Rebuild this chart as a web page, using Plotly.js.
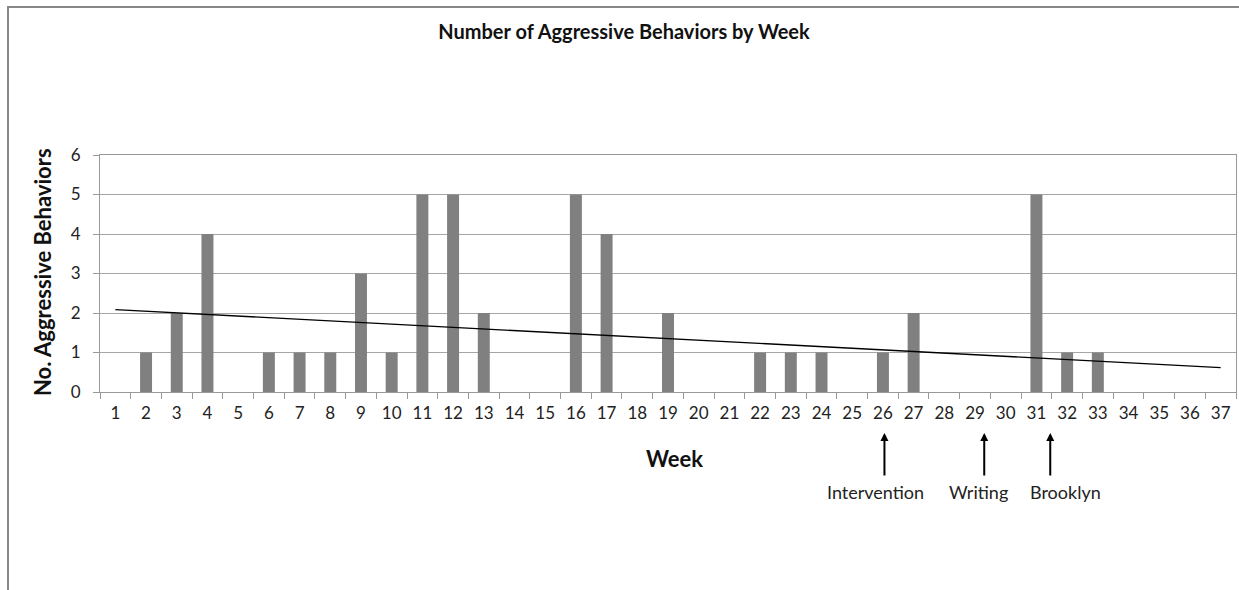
<!DOCTYPE html>
<html>
<head>
<meta charset="utf-8">
<script src="https://cdn.plot.ly/plotly-3.0.1.min.js"></script>
<style>html,body{margin:0;padding:0;background:#fff;}#chart{width:1239px;height:590px;}</style>
</head>
<body>
<div id="chart"></div>
<script>
const weeks = ["1","2","3","4","5","6","7","8","9","10","11","12","13","14","15","16","17","18","19","20","21","22","23","24","25","26","27","28","29","30","31","32","33","34","35","36","37"];
const behaviors = [0,1,2,4,0,1,1,1,3,1,5,5,2,0,0,5,4,0,2,0,0,1,1,1,0,1,2,0,0,0,5,1,1,0,0,0,0];
const yTicks = [0,1,2,3,4,5,6];
const events = ["Intervention","Writing","Brooklyn"];
const eventWeeks = [26.05, 29.3, 31.45];
const eventLabelWeeks = [25.75, 29.1, 31.95];

// linear trendline (least squares) computed from the data
const n = behaviors.length;
const xs = weeks.map(Number);
const mx = xs.reduce((a,b)=>a+b,0)/n;
const my = behaviors.reduce((a,b)=>a+b,0)/n;
let sxy=0,sxx=0;
for(let i=0;i<n;i++){sxy+=(xs[i]-mx)*(behaviors[i]-my);sxx+=(xs[i]-mx)*(xs[i]-mx);}
const slope=sxy/sxx, icpt=my-slope*mx;
const trend = xs.map(x=>icpt+slope*x);

const font = "Lato, 'Open Sans', sans-serif";
const L=100, R=3, T=155, B=198, W=1239, H=590;
const pw=W-L-R, ph=H-T-B;
const px=v=>(v-L)/pw, py=v=>(H-B-v)/ph;

const traces = [
  {type:'bar', x:weeks, y:behaviors, width:0.39, marker:{color:'#808080', line:{width:0}}, hoverinfo:'x+y'},
  {type:'scatter', mode:'lines', x:weeks, y:trend, line:{color:'#000', width:1.4}, hoverinfo:'skip'}
];

const annotations = [
  {xref:'paper', yref:'paper', x:px(674), y:py(458), text:'<b>Week</b>', showarrow:false, xanchor:'center', yanchor:'middle',
    font:{family:font, size:22, color:'#111'}},
  {xref:'paper', yref:'paper', x:px(42), y:py(272), text:'<b>No. Aggressive Behaviors</b>', showarrow:false, textangle:-90,
    xanchor:'center', yanchor:'middle', font:{family:font, size:22, color:'#111'}}
];
events.forEach((ev,i)=>{
  annotations.push({xref:'x', yref:'paper', x:eventWeeks[i]-1, y:py(433), ax:0, ay:44, text:'', showarrow:true,
    arrowhead:2, arrowsize:0.8, arrowwidth:2, arrowcolor:'#000'});
  annotations.push({xref:'x', yref:'paper', x:eventLabelWeeks[i]-1, y:py(492), text:ev, showarrow:false,
    xanchor:'center', yanchor:'middle', font:{family:font, size:18, color:'#222'}});
});

const layout = {
  width:W, height:H,
  margin:{l:L, r:R, t:T, b:B, pad:0},
  paper_bgcolor:'#fff', plot_bgcolor:'#fff',
  showlegend:false,
  title:{text:'<b>Number of Aggressive Behaviors by Week</b>', x:px(624), xref:'paper', xanchor:'center', y:1-32/H, yanchor:'middle',
    font:{family:font, size:20, color:'#111'}},
  xaxis:{type:'category', tickson:'boundaries', ticks:'outside', ticklen:6, tickcolor:'#999', tickwidth:1,
    showline:true, linecolor:'#999', linewidth:1, mirror:true, showgrid:false, zeroline:false,
    tickfont:{family:font, size:17, color:'#222'}, ticklabelstandoff:6,
    automargin:false, fixedrange:true},
  yaxis:{range:[0,6], tickvals:yTicks, ticks:'outside', ticklen:6, tickcolor:'#999', tickwidth:1,
    showline:true, linecolor:'#999', linewidth:1, mirror:true, showgrid:true, gridcolor:'#a6a6a6', gridwidth:1,
    zeroline:false, tickfont:{family:font, size:17, color:'#222'}, ticklabelstandoff:9,
    automargin:false, fixedrange:true},
  annotations:annotations,
  shapes:[
    {type:'line', xref:'paper', yref:'paper', x0:px(7), x1:px(1239), y0:py(7), y1:py(7), line:{color:'#888', width:2}},
    {type:'line', xref:'paper', yref:'paper', x0:px(8), x1:px(8), y0:py(6), y1:py(590), line:{color:'#888', width:2}}
  ]
};

Plotly.newPlot('chart', traces, layout, {displayModeBar:false, staticPlot:true});
</script>
</body>
</html>
